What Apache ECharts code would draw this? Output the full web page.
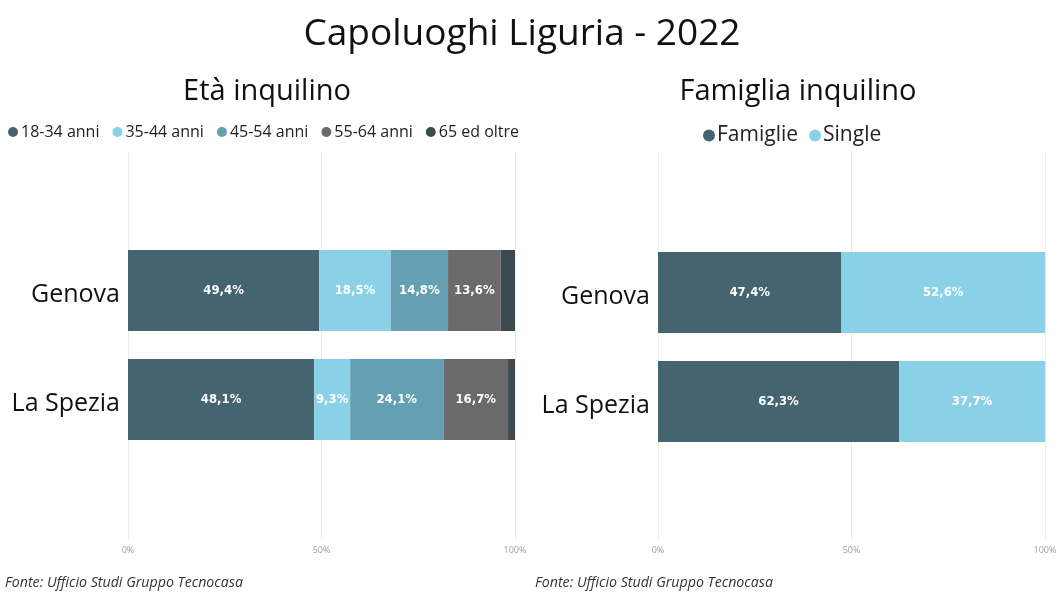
<!DOCTYPE html>
<html>
<head>
<meta charset="utf-8">
<script src="https://cdn.jsdelivr.net/npm/echarts@6/dist/echarts.min.js"></script>
<style>
html, body { margin: 0; padding: 0; background: #fff; }
#main { width: 1060px; height: 605px; }
</style>
</head>
<body>
<div id="main"></div>
<script>
var cities = ['Genova', 'La Spezia'];
var ageNames = ['18-34 anni', '35-44 anni', '45-54 anni', '55-64 anni', '65 ed oltre'];
var ageColors = ['#446470', '#8AD1E8', '#65A0B2', '#6A6A6A', '#3A4A4F'];
var age1834 = [49.4, 48.1];
var age3544 = [18.5, 9.3];
var age4554 = [14.8, 24.1];
var age5564 = [13.6, 16.7];
var age65 = [3.7, 1.8];
var famNames = ['Famiglie', 'Single'];
var famColors = ['#446470', '#8AD1E8'];
var famiglie = [47.4, 62.3];
var single = [52.6, 37.7];
var tickLabels = ['0%', '50%', '100%'];

var font = '"Open Sans", "Noto Sans", sans-serif';
var chart = echarts.init(document.getElementById('main'));

function pct(p) {
    return p.value.toFixed(1).replace('.', ',') + '%';
}

function bgAxis(gridIndex) {
    return {
        type: 'value', gridIndex: gridIndex, min: 0, max: 100, interval: 50,
        axisLine: { show: false }, axisTick: { show: false },
        splitLine: { show: true, lineStyle: { color: '#ececec', width: 1 } },
        axisLabel: {
            color: '#a0a0a0', fontSize: 9, fontFamily: font, margin: 6,
            formatter: function(v) { return tickLabels[v / 50]; }
        }
    };
}

function barAxis(gridIndex) {
    return { type: 'value', gridIndex: gridIndex, min: 0, max: 100, show: false };
}

function catAxis(gridIndex) {
    return {
        type: 'category', gridIndex: gridIndex, data: cities, inverse: true,
        axisLine: { show: false }, axisTick: { show: false },
        axisLabel: { color: '#111', fontSize: 25, fontFamily: font, margin: 8,
                     verticalAlign: 'top', lineHeight: 8 }
    };
}

function barSeries(name, data, color, xi, showLabel) {
    return {
        name: name, type: 'bar', stack: 'tot' + xi, data: data,
        xAxisIndex: xi, yAxisIndex: xi, barWidth: 81,
        itemStyle: { color: color },
        label: {
            show: showLabel, position: 'inside', color: '#fff',
            fontSize: 13, fontWeight: 'bold',
            fontFamily: '"DejaVu Sans Condensed", "Roboto", sans-serif',
            formatter: pct
        },
        emphasis: { disabled: true }
    };
}

var option = {
    backgroundColor: '#fff',
    animation: false,
    title: [
        { text: 'Capoluoghi Liguria - 2022', left: 517, top: 11, textAlign: 'center',
          textStyle: { fontSize: 37, fontWeight: 'normal', color: '#111', fontFamily: font } },
        { text: 'Età inquilino', left: 262, top: 72, textAlign: 'center',
          textStyle: { fontSize: 29, fontWeight: 'normal', color: '#111', fontFamily: font } },
        { text: 'Famiglia inquilino', left: 793, top: 72, textAlign: 'center',
          textStyle: { fontSize: 29, fontWeight: 'normal', color: '#111', fontFamily: font } },
        { text: 'Fonte: Ufficio Studi Gruppo Tecnocasa', left: 0, top: 571,
          textStyle: { fontSize: 14.2, fontStyle: 'italic', fontWeight: 'normal', color: '#333', fontFamily: font } },
        { text: 'Fonte: Ufficio Studi Gruppo Tecnocasa', left: 530, top: 571,
          textStyle: { fontSize: 14.2, fontStyle: 'italic', fontWeight: 'normal', color: '#333', fontFamily: font } }
    ],
    legend: [
        { data: ageNames, left: 3, top: 119, icon: 'circle', itemWidth: 10, itemHeight: 10, itemGap: 13,
          textStyle: { fontSize: 16, color: '#222', fontFamily: font, padding: [0, 0, 0, -2] } },
        { data: famNames, left: 698, top: 120, icon: 'circle', itemWidth: 12, itemHeight: 12, itemGap: 11,
          textStyle: { fontSize: 21, color: '#222', fontFamily: font, padding: [0, 0, 0, -3] } }
    ],
    grid: [
        { left: 128, width: 387, top: 152, height: 388 },
        { left: 128, width: 387, top: 236, height: 218 },
        { left: 658, width: 387, top: 152, height: 388 },
        { left: 658, width: 387, top: 238, height: 218 }
    ],
    xAxis: [barAxis(1), barAxis(3), bgAxis(0), bgAxis(2)],
    yAxis: [catAxis(1), catAxis(3),
        { type: 'value', gridIndex: 0, show: false },
        { type: 'value', gridIndex: 2, show: false }],
    series: [
        barSeries(ageNames[0], age1834, ageColors[0], 0, true),
        barSeries(ageNames[1], age3544, ageColors[1], 0, true),
        barSeries(ageNames[2], age4554, ageColors[2], 0, true),
        barSeries(ageNames[3], age5564, ageColors[3], 0, true),
        barSeries(ageNames[4], age65, ageColors[4], 0, false),
        barSeries(famNames[0], famiglie, famColors[0], 1, true),
        barSeries(famNames[1], single, famColors[1], 1, true)
    ]
};

chart.setOption(option);
</script>
</body>
</html>
